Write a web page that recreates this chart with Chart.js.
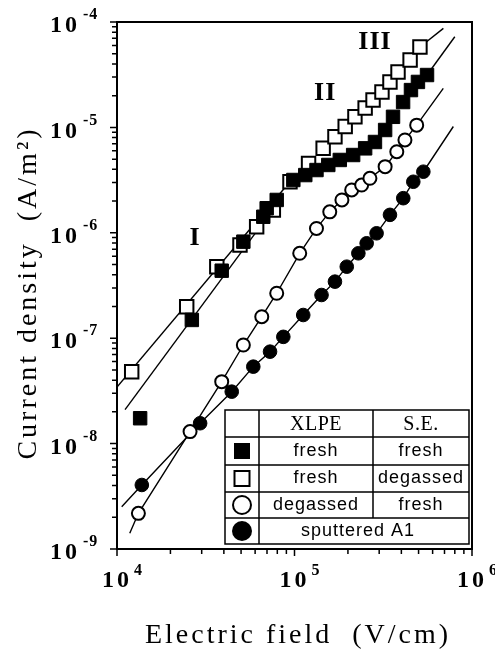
<!DOCTYPE html>
<html><head><meta charset="utf-8">
<script src="https://cdn.jsdelivr.net/npm/chart.js@4/dist/chart.umd.min.js"></script>
<style>html,body{margin:0;padding:0;background:#fff}#wrap{width:495px;height:651px;position:relative}</style>
</head><body><div id="wrap"><canvas id="c" width="495" height="651"></canvas></div>
<script>
// ---- data (Electric field in V/cm, current density in A/m^2) ----
// XLPE fresh / S.E. fresh (filled squares)
const fieldFF   = [1.35e4, 2.64e4, 3.89e4, 5.15e4, 6.67e4, 6.97e4, 7.94e4, 9.85e4, 1.15e5, 1.33e5, 1.55e5, 1.80e5, 2.14e5, 2.50e5, 2.84e5, 3.24e5, 3.59e5, 4.09e5, 4.53e5, 4.96e5, 5.58e5];
const currentFF = [1.74e-8, 1.49e-7, 4.37e-7, 8.24e-7, 1.42e-6, 1.71e-6, 2.05e-6, 3.17e-6, 3.53e-6, 3.94e-6, 4.40e-6, 4.91e-6, 5.47e-6, 6.33e-6, 7.27e-6, 9.45e-6, 1.26e-5, 1.74e-5, 2.26e-5, 2.70e-5, 3.14e-5];
// XLPE fresh / S.E. degassed (open squares)
const fieldFD   = [1.21e4, 2.47e4, 3.65e4, 4.93e4, 6.12e4, 7.60e4, 9.43e4, 1.20e5, 1.45e5, 1.69e5, 1.93e5, 2.19e5, 2.50e5, 2.77e5, 3.11e5, 3.45e5, 3.83e5, 4.48e5, 5.09e5];
const currentFD = [4.81e-8, 1.99e-7, 4.77e-7, 7.66e-7, 1.14e-6, 1.64e-6, 3.05e-6, 4.56e-6, 6.33e-6, 8.16e-6, 1.02e-5, 1.26e-5, 1.53e-5, 1.82e-5, 2.17e-5, 2.70e-5, 3.36e-5, 4.36e-5, 5.79e-5];
// XLPE degassed / S.E. fresh (open circles)
const fieldDF   = [1.32e4, 2.58e4, 3.89e4, 5.15e4, 6.54e4, 7.94e4, 1.07e5, 1.33e5, 1.58e5, 1.85e5, 2.10e5, 2.39e5, 2.66e5, 3.24e5, 3.77e5, 4.19e5, 4.88e5];
const currentDF = [2.18e-9, 1.30e-8, 3.87e-8, 8.62e-8, 1.60e-7, 2.67e-7, 6.39e-7, 1.10e-6, 1.58e-6, 2.05e-6, 2.55e-6, 2.84e-6, 3.29e-6, 4.24e-6, 5.88e-6, 7.60e-6, 1.05e-5];
// sputtered Al (filled circles)
const fieldAl   = [1.38e4, 2.94e4, 4.43e4, 5.86e4, 7.28e4, 8.65e4, 1.12e5, 1.42e5, 1.69e5, 1.97e5, 2.29e5, 2.55e5, 2.90e5, 3.45e5, 4.10e5, 4.67e5, 5.32e5];
const currentAl = [4.05e-9, 1.56e-8, 3.11e-8, 5.37e-8, 7.45e-8, 1.03e-7, 1.66e-7, 2.57e-7, 3.44e-7, 4.77e-7, 6.39e-7, 7.95e-7, 9.89e-7, 1.48e-6, 2.13e-6, 3.05e-6, 3.80e-6];

// fitted straight lines (endpoints in data units)
const fitI_FF_E   = [1.11e4, 8.0e4];   const fitI_FF_J   = [2.1e-8, 1.9e-6];
const fitI_FD_E   = [1.0e4, 1.0e5];    const fitI_FD_J   = [3.44e-8, 3.44e-6];
const fitIII_FF_E = [5.58e5, 8.0e5];   const fitIII_FF_J = [3.14e-5, 7.25e-5];
const fitIII_FD_E = [5.09e5, 6.9e5];   const fitIII_FD_J = [5.79e-5, 8.7e-5];
const extDF_E     = [1.18e4, 6.89e5];  const extDF_J     = [1.41e-9, 2.35e-5];
const extAl_E     = [1.063e4, 7.85e5]; const extAl_J     = [2.52e-9, 1.02e-5];

// axes
const xMin = 1e4, xMax = 1e6, yMin = 1e-9, yMax = 1e-4;
const xDecades = [4, 5, 6];
const yDecades = [-4, -5, -6, -7, -8, -9];
const xTitle = 'Electric field  (V/cm)';
const yTitle = 'Current density  (A/m\u00B2)';

// region labels
const regionText = ['I', 'II', 'III'];
const regionE    = [2.75e4, 1.49e5, 2.84e5];
const regionJ    = [8.9e-7, 2.12e-5, 6.46e-5];

// legend table
const legendHeader = ['XLPE', 'S.E.'];
const legendXLPE   = ['fresh', 'fresh', 'degassed'];
const legendSE     = ['fresh', 'degassed', 'fresh'];
const legendLast   = 'sputtered A1';

const pts = (xs, ys) => xs.map((x, i) => ({x: x, y: ys[i]}));
const lineDS = (data) => ({data: data, showLine: true, borderColor: '#000', borderWidth: 1.4, pointRadius: 0, order: 5, fill: false});

const datasets = [
  {label: 'fresh/fresh', data: pts(fieldFF, currentFF), pointStyle: 'rect', pointRadius: 9.5, backgroundColor: '#000', borderColor: '#000', borderWidth: 1, order: 0},
  {label: 'fresh/degassed', data: pts(fieldFD, currentFD), pointStyle: 'rect', pointRadius: 9.5, backgroundColor: '#fff', borderColor: '#000', borderWidth: 2, order: 1},
  {label: 'degassed/fresh', data: pts(fieldDF, currentDF), pointStyle: 'circle', pointRadius: 6.5, backgroundColor: '#fff', borderColor: '#000', borderWidth: 2, order: 0},
  {label: 'sputtered Al', data: pts(fieldAl, currentAl), pointStyle: 'circle', pointRadius: 6.8, backgroundColor: '#000', borderColor: '#000', borderWidth: 1, order: 0},
  lineDS(pts(fitI_FF_E, fitI_FF_J)),
  lineDS(pts(fitI_FD_E, fitI_FD_J)),
  lineDS(pts(fitIII_FF_E, fitIII_FF_J)),
  lineDS(pts(fitIII_FD_E, fitIII_FD_J)),
  lineDS([{x: extDF_E[0], y: extDF_J[0]}].concat(pts(fieldDF, currentDF), [{x: extDF_E[1], y: extDF_J[1]}])),
  lineDS([{x: extAl_E[0], y: extAl_J[0]}].concat(pts(fieldAl, currentAl), [{x: extAl_E[1], y: extAl_J[1]}]))
];

const SERIF = '"Liberation Serif", "Times New Roman", serif';
const SANS = '"Liberation Sans", Arial, sans-serif';

const decor = {
  id: 'decor',
  afterDraw(chart) {
    const ctx = chart.ctx, a = chart.chartArea;
    const xs = chart.scales.x, ys = chart.scales.y;
    ctx.save();
    ctx.fillStyle = '#000'; ctx.strokeStyle = '#000';
    // frame
    ctx.lineWidth = 2;
    ctx.strokeRect(a.left, a.top, a.right - a.left, a.bottom - a.top);
    // ticks (outward)
    ctx.lineWidth = 1.5;
    ctx.beginPath();
    for (let e = 4; e < 6; e++) {
      for (let m = 1; m <= 9; m++) {
        const px = xs.getPixelForValue(m * Math.pow(10, e));
        const len = m === 1 ? 7 : 5;
        ctx.moveTo(px, a.bottom); ctx.lineTo(px, a.bottom + len);
      }
    }
    ctx.moveTo(xs.getPixelForValue(1e6), a.bottom); ctx.lineTo(xs.getPixelForValue(1e6), a.bottom + 7);
    for (let e = -9; e < -4; e++) {
      for (let m = 1; m <= 9; m++) {
        const py = ys.getPixelForValue(m * Math.pow(10, e));
        const len = m === 1 ? 7 : 5;
        ctx.moveTo(a.left, py); ctx.lineTo(a.left - len, py);
      }
    }
    ctx.moveTo(a.left, ys.getPixelForValue(1e-4)); ctx.lineTo(a.left - 7, ys.getPixelForValue(1e-4));
    ctx.stroke();

    // tick labels
    const setLS = (v) => { if ('letterSpacing' in ctx) ctx.letterSpacing = v; };
    ctx.textBaseline = 'middle';
    yDecades.forEach(d => {
      const py = ys.getPixelForValue(Math.pow(10, d));
      ctx.font = 'bold 24px ' + SERIF; setLS('3px');
      ctx.textAlign = 'right';
      ctx.fillText('10', 80, py + 4);
      ctx.font = 'bold 16px ' + SERIF; setLS('1px');
      ctx.textAlign = 'left';
      ctx.fillText('-' + Math.abs(d), 83, py - 7);
    });
    xDecades.forEach(d => {
      const px = xs.getPixelForValue(Math.pow(10, d));
      ctx.font = 'bold 24px ' + SERIF; setLS('3px');
      ctx.textAlign = 'center';
      ctx.fillText('10', px, a.bottom + 32);
      ctx.font = 'bold 16px ' + SERIF; setLS('0px');
      ctx.textAlign = 'left';
      ctx.fillText(String(d), px + 17, a.bottom + 22);
    });

    // axis titles
    ctx.font = '28px ' + SERIF; setLS('3px');
    ctx.textAlign = 'center'; ctx.textBaseline = 'middle';
    ctx.fillText(xTitle, 298, 636);
    ctx.save();
    ctx.translate(29, 293);
    ctx.rotate(-Math.PI / 2);
    ctx.fillText(yTitle, 0, 0);
    ctx.restore();

    // region labels
    ctx.font = 'bold 26px ' + SERIF; setLS('1px');
    regionText.forEach((t, i) => {
      ctx.fillText(t, xs.getPixelForValue(regionE[i]), ys.getPixelForValue(regionJ[i]));
    });

    // legend table
    const L = 225, C1 = 259, C2 = 373, R = 469;
    const rows = [410, 437, 465, 492, 518, 544];
    ctx.fillStyle = '#fff';
    ctx.fillRect(L, rows[0], R - L, rows[5] - rows[0]);
    ctx.fillStyle = '#000';
    ctx.lineWidth = 1.5;
    ctx.beginPath();
    ctx.rect(L, rows[0], R - L, rows[5] - rows[0]);
    for (let i = 1; i < 5; i++) { ctx.moveTo(L, rows[i]); ctx.lineTo(R, rows[i]); }
    ctx.moveTo(C1, rows[0]); ctx.lineTo(C1, rows[5]);
    ctx.moveTo(C2, rows[0]); ctx.lineTo(C2, rows[4]);
    ctx.stroke();
    const mid = i => (rows[i] + rows[i + 1]) / 2;
    ctx.textAlign = 'center'; ctx.textBaseline = 'middle';
    ctx.font = '20px ' + SERIF; setLS('0.5px');
    ctx.fillText(legendHeader[0], (C1 + C2) / 2, mid(0) + 1);
    ctx.fillText(legendHeader[1], (C2 + R) / 2, mid(0) + 1);
    ctx.font = '18px ' + SANS; setLS('1px');
    for (let i = 0; i < 3; i++) {
      ctx.fillText(legendXLPE[i], (C1 + C2) / 2, mid(i + 1));
      ctx.fillText(legendSE[i], (C2 + R) / 2, mid(i + 1));
    }
    ctx.fillText(legendLast, (C1 + R) / 2 - 6, mid(4));
    // legend symbols
    const sx = (L + C1) / 2;
    ctx.lineWidth = 2;
    ctx.fillRect(sx - 8, mid(1) - 8, 16, 16);
    ctx.fillStyle = '#fff'; ctx.fillRect(sx - 7.5, mid(2) - 7.5, 15, 15);
    ctx.strokeRect(sx - 7.5, mid(2) - 7.5, 15, 15);
    ctx.beginPath(); ctx.arc(sx, mid(3), 9, 0, Math.PI * 2); ctx.fill(); ctx.stroke();
    ctx.fillStyle = '#000';
    ctx.beginPath(); ctx.arc(sx, mid(4), 10, 0, Math.PI * 2); ctx.fill();
    ctx.restore();
  }
};

new Chart(document.getElementById('c'), {
  type: 'scatter',
  data: {datasets: datasets},
  options: {
    responsive: false,
    animation: false,
    devicePixelRatio: 1,
    layout: {padding: {left: 117, right: 23, top: 22, bottom: 102}},
    plugins: {legend: {display: false}, tooltip: {enabled: false}},
    scales: {
      x: {type: 'logarithmic', min: xMin, max: xMax, display: false},
      y: {type: 'logarithmic', min: yMin, max: yMax, display: false}
    }
  },
  plugins: [decor]
});
</script>
</body></html>
